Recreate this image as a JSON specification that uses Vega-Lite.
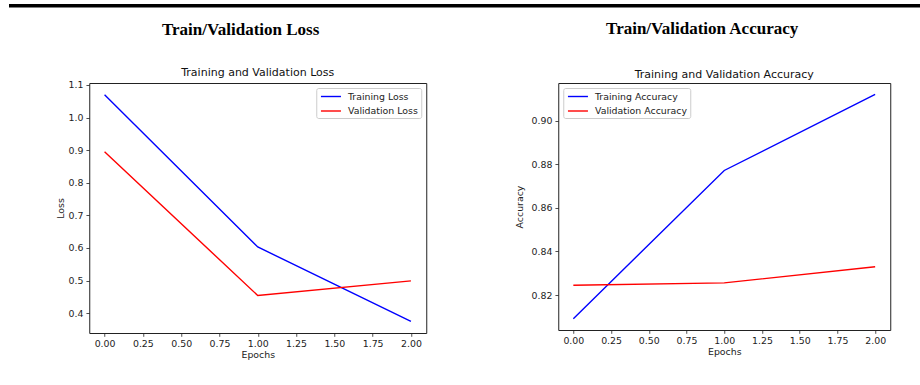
{
  "$schema": "https://vega.github.io/schema/vega-lite/v6.json",
  "background": "white",
  "padding": {"left": 9, "top": 4, "right": 0, "bottom": 0},
  "config": {
    "font": "DejaVu Sans",
    "view": {"stroke": "#222", "strokeWidth": 1},
    "axis": {
      "domain": false,
      "grid": false,
      "tickColor": "#222",
      "tickSize": 3.3,
      "tickWidth": 0.8,
      "labelFont": "DejaVu Sans",
      "labelFontSize": 9.4,
      "labelColor": "#222",
      "labelPadding": 3,
      "labelFlush": false,
      "labelOverlap": false,
      "titleFont": "DejaVu Sans",
      "titleFontSize": 9.4,
      "titleFontWeight": "normal",
      "titleColor": "#222"
    },
    "legend": {
      "labelFont": "DejaVu Sans",
      "labelFontSize": 9.4,
      "labelColor": "#222",
      "title": null,
      "offset": 4.6,
      "padding": 2.5,
      "symbolType": "M-2,0H2",
      "symbolSize": 100,
      "symbolStrokeWidth": 1.4,
      "symbolOffset": 6.2,
      "labelOffset": 11,
      "rowPadding": 3.5,
      "strokeColor": "#cccccc",
      "fillColor": "white",
      "cornerRadius": 2
    }
  },
  "spacing": 11,
  "center": true,
  "vconcat": [
    {
      "width": 962,
      "height": 3.5,
      "view": {"stroke": null},
      "data": {"values": [{"band": "top rule"}]},
      "mark": {"type": "rect", "color": "black"},
      "encoding": {}
    },
    {
      "spacing": 86,
      "resolve": {"scale": {"color": "independent"}, "legend": {"color": "independent"}},
      "hconcat": [
        {
          "title": {
            "text": "Train/Validation Loss",
            "font": "Liberation Serif",
            "fontSize": 17,
            "fontWeight": "bold",
            "color": "black",
            "anchor": "middle",
            "frame": "bounds",
            "offset": 28
          },
          "resolve": {"scale": {"color": "independent"}, "legend": {"color": "independent"}},
          "vconcat": [
            {
              "width": 337,
              "height": 250,
              "title": {
                "text": "Training and Validation Loss",
                "font": "DejaVu Sans",
                "fontSize": 11,
                "fontWeight": "normal",
                "color": "#111",
                "anchor": "middle",
                "frame": "group",
                "offset": 1.7
              },
              "data": {
                "values": [
                  {"epoch": 0, "value": 1.070, "series": "Training Loss"},
                  {"epoch": 1, "value": 0.603, "series": "Training Loss"},
                  {"epoch": 2, "value": 0.375, "series": "Training Loss"},
                  {"epoch": 0, "value": 0.895, "series": "Validation Loss"},
                  {"epoch": 1, "value": 0.454, "series": "Validation Loss"},
                  {"epoch": 2, "value": 0.499, "series": "Validation Loss"}
                ]
              },
              "mark": {"type": "line", "strokeWidth": 1.4},
              "encoding": {
                "x": {
                  "field": "epoch",
                  "type": "quantitative",
                  "scale": {"domain": [-0.1, 2.1], "nice": false, "zero": false},
                  "axis": {"values": [0, 0.25, 0.5, 0.75, 1, 1.25, 1.5, 1.75, 2], "format": ".2f", "title": "Epochs", "titlePadding": 3}
                },
                "y": {
                  "field": "value",
                  "type": "quantitative",
                  "scale": {"domain": [0.339, 1.106], "nice": false, "zero": false},
                  "axis": {"values": [0.4, 0.5, 0.6, 0.7, 0.8, 0.9, 1.0, 1.1], "format": ".1f", "title": "Loss", "titlePadding": 3}
                },
                "color": {
                  "field": "series",
                  "type": "nominal",
                  "scale": {"domain": ["Training Loss", "Validation Loss"], "range": ["#0000ff", "#ff0000"]},
                  "legend": {"orient": "top-right"}
                }
              }
            }
          ]
        },
        {
          "title": {
            "text": "Train/Validation Accuracy",
            "font": "Liberation Serif",
            "fontSize": 17,
            "fontWeight": "bold",
            "color": "black",
            "anchor": "middle",
            "frame": "bounds",
            "offset": 30.5
          },
          "resolve": {"scale": {"color": "independent"}, "legend": {"color": "independent"}},
          "vconcat": [
            {
              "width": 332,
              "height": 247,
              "title": {
                "text": "Training and Validation Accuracy",
                "font": "DejaVu Sans",
                "fontSize": 11,
                "fontWeight": "normal",
                "color": "#111",
                "anchor": "middle",
                "frame": "group",
                "offset": 3.4
              },
              "data": {
                "values": [
                  {"epoch": 0, "value": 0.8092, "series": "Training Accuracy"},
                  {"epoch": 1, "value": 0.8771, "series": "Training Accuracy"},
                  {"epoch": 2, "value": 0.9120, "series": "Training Accuracy"},
                  {"epoch": 0, "value": 0.8245, "series": "Validation Accuracy"},
                  {"epoch": 1, "value": 0.8256, "series": "Validation Accuracy"},
                  {"epoch": 2, "value": 0.8330, "series": "Validation Accuracy"}
                ]
              },
              "mark": {"type": "line", "strokeWidth": 1.4},
              "encoding": {
                "x": {
                  "field": "epoch",
                  "type": "quantitative",
                  "scale": {"domain": [-0.1, 2.1], "nice": false, "zero": false},
                  "axis": {"values": [0, 0.25, 0.5, 0.75, 1, 1.25, 1.5, 1.75, 2], "format": ".2f", "title": "Epochs", "titlePadding": 3}
                },
                "y": {
                  "field": "value",
                  "type": "quantitative",
                  "scale": {"domain": [0.804, 0.9172], "nice": false, "zero": false},
                  "axis": {"values": [0.82, 0.84, 0.86, 0.88, 0.90], "format": ".2f", "title": "Accuracy", "titlePadding": 7}
                },
                "color": {
                  "field": "series",
                  "type": "nominal",
                  "scale": {"domain": ["Training Accuracy", "Validation Accuracy"], "range": ["#0000ff", "#ff0000"]},
                  "legend": {"orient": "top-left"}
                }
              }
            }
          ]
        }
      ]
    }
  ]
}
